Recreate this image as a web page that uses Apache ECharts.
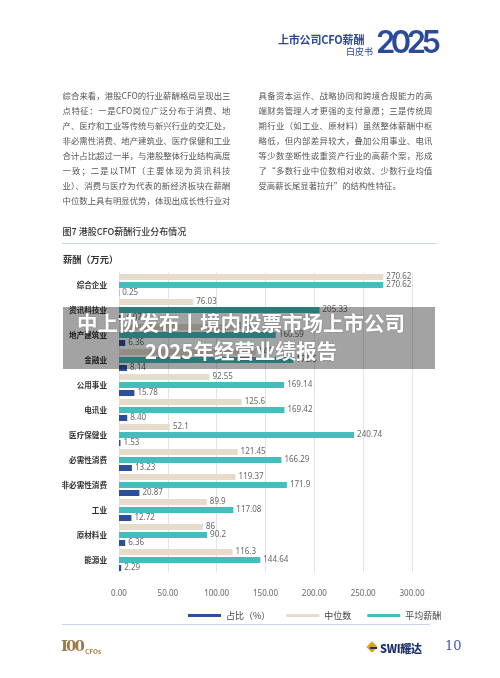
<!DOCTYPE html>
<html><head><meta charset="utf-8">
<script src="https://cdn.jsdelivr.net/npm/echarts@6/dist/echarts.min.js"></script>
<style>
html,body{margin:0;padding:0}
body{width:500px;height:678px;position:relative;background:#fff;overflow:hidden;font-family:"Noto Sans CJK SC","Noto Sans",sans-serif}
#chart{position:absolute;left:0;top:0;width:500px;height:678px}
.abs{position:absolute;white-space:nowrap}
.col{position:absolute;font-size:8.4px;line-height:15.1px;color:#555}
.col div{text-align:justify;text-align-last:justify;height:15.1px;overflow:visible}
.col div.last{text-align-last:left}
#overlay{position:absolute;left:63px;top:307px;width:372px;height:62px;background:rgba(0,0,0,0.36);z-index:10;color:#fff;font-weight:bold;font-size:20.5px;line-height:28px;text-align:center;box-sizing:border-box;padding:1px 16px 0 0;text-shadow:0 0 2px rgba(0,0,0,0.25)}
</style></head>
<body>
<div id="chart"></div>
<div class="abs" style="left:278px;top:31px;font-size:11px;font-weight:bold;color:#2b4a9b;letter-spacing:-0.2px">上市公司CFO薪酬</div>
<div class="abs" style="left:346px;top:45px;font-size:9px;color:#2b4a9b">白皮书</div>
<div class="abs" style="left:376px;top:23px;font-size:31px;font-weight:600;color:#2b4a9b;font-family:Inter,'Noto Sans',sans-serif;letter-spacing:-4.5px">2025</div>

<div class="col" style="left:62.5px;top:87.5px;width:168px">
<div>综合来看，港股CFO的行业薪酬格局呈现出三</div>
<div>点特征：一是CFO岗位广泛分布于消费、地</div>
<div>产、医疗和工业等传统与新兴行业的交汇处，</div>
<div>非必需性消费、地产建筑业、医疗保健和工业</div>
<div>合计占比超过一半，与港股整体行业结构高度</div>
<div>一致；二是以TMT（主要体现为资讯科技</div>
<div>业）、消费与医疗为代表的新经济板块在薪酬</div>
<div>中位数上具有明显优势，体现出成长性行业对</div>
</div>
<div class="col" style="left:258.5px;top:87.5px;width:174px">
<div>具备资本运作、战略协同和跨境合规能力的高</div>
<div>端财务管理人才更强的支付意愿；三是传统周</div>
<div>期行业（如工业、原材料）虽然整体薪酬中枢</div>
<div>略低，但内部差异较大，叠加公用事业、电讯</div>
<div>等少数垄断性或重资产行业的高薪个案，形成</div>
<div>了“多数行业中位数相对收敛、少数行业均值</div>
<div class="last">受高薪长尾显著拉升”的结构性特征。</div>
</div>

<div class="abs" style="left:62.5px;top:225px;font-size:9px;font-weight:500;color:#333">图7 港股CFO薪酬行业分布情况</div>
<div class="abs" style="left:62px;top:243px;width:375px;height:1px;background:#c9d3ee"></div>
<div class="abs" style="left:63px;top:252px;font-size:9.2px;font-weight:bold;color:#333">薪酬（万元）</div>

<div class="abs" style="left:62px;top:624px;width:368px;height:1px;background:#c9d3ee"></div>
<div class="abs" style="left:61px;top:637px;font-size:15px;font-weight:bold;color:#9c7a45;font-family:'DejaVu Serif',serif;letter-spacing:-2px">I00</div>
<div class="abs" style="left:85px;top:646px;font-size:6.5px;font-weight:bold;color:#9c7a45">CFOs</div>
<div class="abs" style="left:368px;top:643px;width:8px;height:8px;background:#d9a21f;transform:rotate(45deg)"></div>
<div class="abs" style="left:369.5px;top:646.5px;width:7px;height:2px;background:#1f3170;transform:rotate(0deg)"></div>
<div class="abs" style="left:380px;top:640px;font-size:11px;font-weight:900;color:#1f3170;letter-spacing:-0.3px">SWI耀达</div>
<div class="abs" style="left:445px;top:638px;font-size:13px;color:#3b5bab;font-family:'DejaVu Serif','Liberation Serif',serif">10</div>

<div id="overlay"><div>中上协发布丨境内股票市场上市公司</div><div>2025年经营业绩报告</div></div>

<script>
const categories = ['综合企业','资讯科技业','地产建筑业','金融业','公用事业','电讯业','医疗保健业','必需性消费','非必需性消费','工业','原材料业','能源业'];
const medianPay = [270.62, 76.03, 118.2, 140.0, 92.55, 125.6, 52.1, 121.45, 119.37, 89.9, 86, 116.3];
const avgPay = [270.62, 205.33, 160.59, 178.5, 169.14, 169.42, 240.74, 166.29, 171.9, 117.08, 90.2, 144.64];
const sharePct = [0.25, 4.07, 6.36, 8.14, 15.78, 8.40, 1.53, 13.23, 20.87, 12.72, 6.36, 2.29];
const seriesNames = ['占比（%）','中位数','平均薪酬'];
const xMin = 0, xMax = 300, xStep = 50;

const chart = echarts.init(document.getElementById('chart'), null, {renderer:'canvas'});
const lbl = (fmt) => ({show:true, position:'right', distance:3, fontSize:8, color:'#666',
  fontFamily:'"Noto Sans","Noto Sans CJK SC",sans-serif', formatter: fmt});
chart.setOption({
  animation:false,
  textStyle:{fontFamily:'"Noto Sans CJK SC","Noto Sans",sans-serif'},
  grid:{left:119, right:88, top:272.5, height:300, containLabel:false},
  legend:{data:seriesNames, left:183, top:606, icon:'rect', itemWidth:33, itemHeight:3, itemGap:16,
    textStyle:{fontSize:9, color:'#444'}},
  xAxis:{type:'value', min:xMin, max:xMax, interval:xStep,
    axisLine:{show:false}, axisTick:{show:false},
    splitLine:{lineStyle:{color:'#e3e3e3', width:1}},
    axisLabel:{fontSize:8, color:'#666', margin:17, formatter:v=>v.toFixed(2),
      fontFamily:'"Noto Sans",sans-serif'}},
  yAxis:{type:'category', data:categories, inverse:true,
    axisLine:{show:false}, axisTick:{show:false},
    axisLabel:{fontSize:7.6, fontWeight:'bold', color:'#333', margin:12}},
  series:[
    {name:seriesNames[1], type:'bar', data:medianPay, barWidth:6, barGap:'33%',
      itemStyle:{color:'#e6dccb'}, label:lbl(p=>String(p.value))},
    {name:seriesNames[2], type:'bar', data:avgPay, barWidth:6, barGap:'33%',
      itemStyle:{color:'#45bdbd'}, label:lbl(p=>String(p.value))},
    {name:seriesNames[0], type:'bar', data:sharePct, barWidth:6, barGap:'33%',
      itemStyle:{color:'#2b4f9c'}, label:lbl(p=>p.value.toFixed(2))}
  ]
});
</script>
</body></html>
